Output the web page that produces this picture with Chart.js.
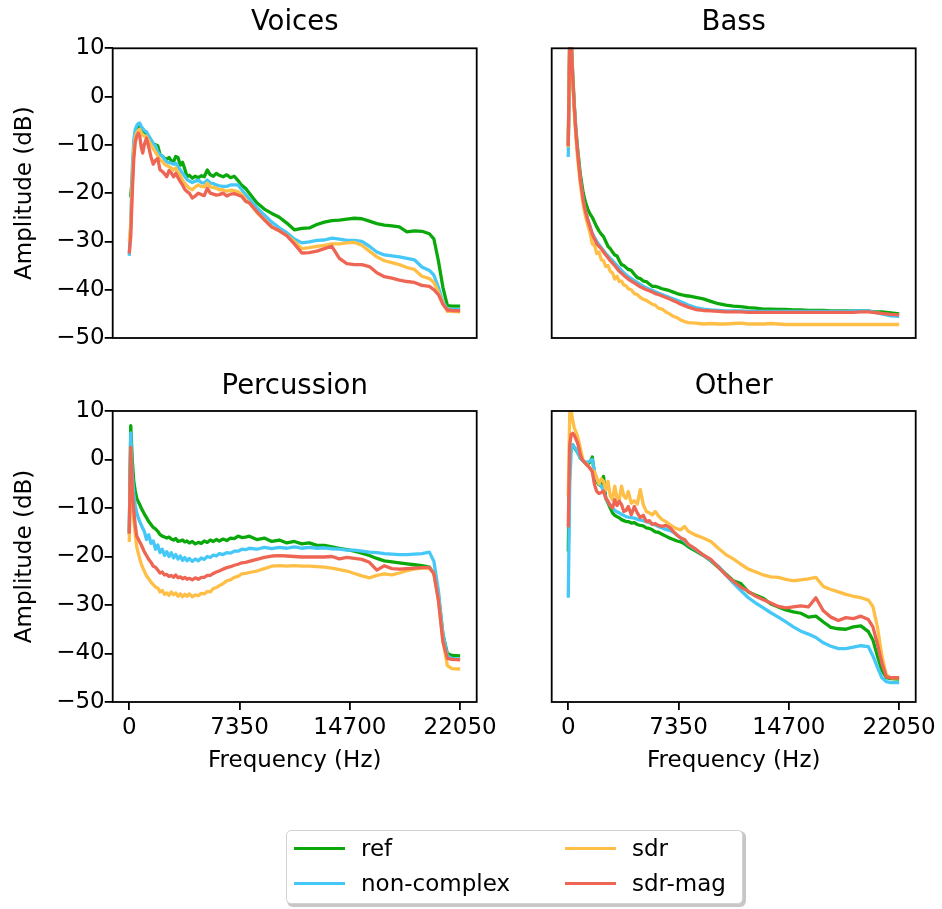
<!DOCTYPE html>
<html><head><meta charset="utf-8">
<script src="https://cdn.jsdelivr.net/npm/chart.js@4"></script>
<style>
html,body{margin:0;padding:0;background:#fff;}
#wrap{position:relative;width:942px;height:909px;overflow:hidden;font-family:"DejaVu Sans",sans-serif;background:#fff;}
#wrap canvas{position:absolute;left:0;top:0;}
.legend{position:absolute;left:286px;top:830px;width:457px;height:74px;border:1.5px solid #d2d2d2;border-radius:5px;box-shadow:2px 2px 0 1px rgba(0,0,0,0.22);background:#fff;box-sizing:border-box;}
.lg-line{position:absolute;width:51px;height:3.4px;}
.lg-text{position:absolute;font-size:23px;line-height:23px;color:#000;white-space:nowrap;}
</style>
</head><body>
<div id="wrap">
<canvas id="c0" width="942" height="909"></canvas>
<canvas id="c1" width="942" height="909"></canvas>
<canvas id="c2" width="942" height="909"></canvas>
<canvas id="c3" width="942" height="909"></canvas>
<div class="legend"></div>
</div>
<script>
// ---- data ----
const panelTitles = ["Voices", "Bass", "Percussion", "Other"];
const seriesNames = ["ref", "non-complex", "sdr", "sdr-mag"];
const seriesColors = ["#0aa80a", "#45c8f7", "#ffbf47", "#ee6553"];
const xTicks = [0, 7350, 14700, 22050];
const yTicks = [-50, -40, -30, -20, -10, 0, 10];
const freqs = [0,100,200,300,400,500,600,700,800,900,1000,
  1150,1300,1450,1600,1750,1900,2050,2200,2350,2500,2650,2800,2950,3100,3250,3400,3550,3700,3850,4000,
  4200,4400,4600,4800,5000,5200,5400,5600,5800,
  6000,6250,6500,6750,7000,7250,7500,7750,
  8000,8500,9000,9500,10000,10500,11000,11500,12000,12500,13000,13500,14000,14500,15000,15500,16000,16500,17000,17500,18000,18500,19000,19500,20000,
  20300,20600,20900,21200,21500,22050];

const voicesRef = [-20.5,-20.5,-17,-11,-7.5,-6.5,-6,-5.8,-6.5,-7,-7.3,
  -7.6,-8.3,-9,-9.8,-10,-10.2,-12,-12.3,-12.8,-13,-12.6,-13.3,-13.5,-12.4,-12.6,-14.2,-13.6,-15,-16.6,-16.3,
  -16.9,-16.5,-16.8,-16.4,-16.6,-15.2,-16.2,-16.5,-15.9,
  -16.3,-16.6,-16.2,-16.8,-16.5,-17.4,-18.4,-19,
  -20,-22,-23.3,-24.2,-25,-26.2,-27.6,-27.3,-27.2,-26.5,-26,-25.7,-25.6,-25.4,-25.2,-25.3,-25.8,-26.3,-26.6,-26.8,-27,-28,-27.8,-27.9,-28.4,
  -29.5,-34,-39.5,-43.3,-43.4,-43.4];
const voicesNonComplex = [-33,-26,-15,-9,-6.8,-6,-5.6,-5.5,-6.2,-6.6,-7,
  -7.3,-8.2,-9,-9.8,-10.2,-11.5,-12.1,-12.3,-13,-13.5,-13.7,-13.8,-14,-13.8,-14.5,-15.2,-15.9,-16.5,-17.2,-17.5,
  -17.8,-17.5,-17.3,-17.8,-17.9,-17.3,-17.9,-18,-18.3,
  -18.5,-18.6,-18.6,-18.3,-18.3,-18.3,-19.3,-20.3,
  -21.2,-23,-24.5,-26,-27.2,-28.2,-29.5,-30.3,-30.1,-29.8,-29.7,-29.3,-29.5,-29.8,-29.8,-30,-31,-32.2,-32.8,-33,-33.2,-33.5,-33.8,-35.3,-36,
  -37,-39.5,-42.5,-44,-44.1,-44.1];
const voicesSdr = [-30,-27,-18,-11,-8.5,-7.5,-7,-6.8,-7.5,-8,-8.2,
  -8.3,-9.2,-10,-10.8,-11.5,-12.3,-13.1,-13.4,-14,-14.3,-14.5,-14.8,-15.2,-14.8,-15.8,-16.3,-17.3,-18,-18.5,-19,
  -19.3,-18.7,-18.3,-18.6,-18.7,-17.9,-18.7,-18.8,-19,
  -19.3,-19.3,-19.6,-19.4,-19.5,-19.7,-20.3,-21.3,
  -22,-24,-25.5,-27,-27.8,-28.8,-30,-31.5,-31.3,-31,-30.8,-30.5,-30.5,-30.3,-30.2,-30.8,-32,-33.2,-34,-34.4,-34.8,-35.4,-35.8,-37.2,-37.7,
  -38.5,-40.5,-42.8,-44.5,-44.5,-44.6];
const voicesSdrMag = [-32.5,-29,-20,-13,-9.5,-8.2,-7.6,-8.2,-10.5,-11.7,-10,
  -8.6,-10.5,-12.5,-14,-13.2,-12.8,-15.2,-15.5,-16,-16.6,-15.3,-15.8,-16.6,-15.9,-16.8,-17.6,-18.3,-19.2,-19.7,-20,
  -21,-20.6,-20,-20.3,-20.5,-19,-20,-20.2,-20.4,
  -20.3,-20,-20.6,-20.2,-20.1,-20.4,-20.7,-21.7,
  -22,-23.8,-25.5,-27,-27.8,-28.8,-30.5,-32.4,-32.3,-32,-31.5,-31,-33.5,-34.6,-34.8,-34.8,-35.2,-36.5,-37.3,-37.6,-38,-38.3,-38.5,-39.1,-39.3,
  -40,-41,-43,-44.2,-44.3,-44.4];

const bassRef = [-10,13,12,4.5,-1.5,-6.5,-10,-13,-16,-18,-20,
  -21.9,-23.3,-24.3,-25,-26,-27,-27.8,-28.5,-29,-30,-31,-31.5,-32.2,-32.8,-33,-34,-34.8,-35,-35.4,-35.8,
  -36,-36.8,-37.5,-37.7,-38.2,-38.3,-38.8,-39.3,-39.3,
  -39.5,-39.8,-40,-40.2,-40.5,-40.8,-41,-41.2,
  -41.3,-41.6,-41.9,-42.4,-42.9,-43.2,-43.4,-43.5,-43.7,-43.8,-44,-44,-44.1,-44.1,-44.2,-44.2,-44.3,-44.3,-44.3,-44.4,-44.4,-44.4,-44.4,-44.4,-44.4,
  -44.6,-44.6,-44.6,-44.7,-44.8,-45];
const bassNonComplex = [-12.5,12,11,3.5,-2,-7,-10.8,-14,-17,-19.3,-21.5,
  -23.8,-25.4,-26.8,-28.3,-29.2,-30,-30.7,-31.3,-31.9,-32.5,-33,-33.5,-34,-34.5,-35,-35.5,-36,-36.5,-36.9,-37.3,
  -37.7,-38.1,-38.5,-38.9,-39.3,-39.6,-39.9,-40.1,-40.4,
  -40.7,-41,-41.3,-41.6,-41.9,-42.2,-42.5,-42.8,
  -43.2,-43.7,-44,-44.2,-44.3,-44.4,-44.4,-44.4,-44.5,-44.5,-44.5,-44.5,-44.5,-44.5,-44.5,-44.5,-44.5,-44.5,-44.5,-44.5,-44.5,-44.5,-44.4,-44.4,-44.4,
  -44.6,-44.8,-45,-45.2,-45.4,-45.5];
const bassSdr = [-10.5,13,11,3,-3,-8,-11.8,-15,-18,-20.3,-22.5,
  -24.8,-26.6,-28.2,-30.5,-30.8,-32.5,-32.2,-33.8,-34,-35.2,-35,-36.2,-36.5,-37.8,-37.2,-38.3,-38.2,-39,-39.2,-39.8,
  -40,-40.8,-41,-41.6,-42,-42.2,-42.6,-43,-43.2,
  -43.8,-44,-44.6,-45,-45.5,-45.8,-46.3,-46.6,
  -46.8,-46.9,-47.1,-47,-47.1,-47.1,-47,-46.9,-47.1,-47.1,-47.1,-47,-47.1,-47.2,-47.2,-47.2,-47.2,-47.2,-47.2,-47.2,-47.2,-47.2,-47.2,-47.2,-47.2,
  -47.2,-47.2,-47.2,-47.2,-47.2,-47.2];
const bassSdrMag = [-10.3,13,11,4,-2,-7,-10.8,-14,-17,-19.3,-21.5,
  -23.8,-25.5,-27,-28.5,-29.5,-30.5,-31,-31.5,-32.2,-32.8,-33.4,-34,-34.5,-35,-35.6,-36.2,-36.6,-37,-37.4,-37.8,
  -38.2,-38.6,-39,-39.4,-39.7,-40,-40.2,-40.5,-40.8,
  -41,-41.3,-41.6,-41.9,-42.3,-42.6,-43,-43.3,
  -43.6,-44.1,-44.3,-44.4,-44.5,-44.6,-44.6,-44.6,-44.7,-44.7,-44.7,-44.7,-44.7,-44.7,-44.7,-44.7,-44.7,-44.7,-44.7,-44.7,-44.7,-44.7,-44.7,-44.6,-44.6,
  -44.7,-44.8,-44.9,-45,-45.1,-45.2];

const percRef = [-15,7,0,-4.5,-6.5,-8,-8.7,-9.3,-10,-10.6,-11.2,
  -12,-12.8,-13.4,-14,-14.3,-14.8,-15.5,-15.8,-16,-16.2,-16,-16.4,-16.6,-16.3,-16.9,-16.8,-16.6,-17,-16.8,-17.2,
  -16.9,-17.4,-17.1,-17.3,-16.8,-17.1,-16.6,-16.9,-16.5,
  -16.8,-16.4,-16.7,-16.2,-16.3,-15.8,-16.1,-16,
  -15.8,-16.5,-16.2,-16.9,-16.6,-17.2,-16.9,-17.4,-17.2,-17.7,-17.7,-18,-18.3,-18.6,-18.9,-19.3,-19.8,-20.4,-20.9,-21.1,-21.3,-21.5,-21.7,-21.9,-22.2,
  -23.5,-28,-36,-40,-40.4,-40.5];
const percNonComplex = [-15.5,5.5,-3,-7,-9.5,-11,-12,-12.8,-13.5,-14.2,-14.8,
  -16.5,-15.5,-17.3,-16.8,-18.5,-17.6,-19.2,-18.5,-19.8,-19,-20,-19.2,-20.3,-19.6,-20.5,-19.9,-20.8,-20.2,-20.9,-20.4,
  -21,-20.5,-20.9,-20.3,-20.6,-20,-20.2,-19.7,-19.9,
  -19.4,-19.6,-19.2,-19.3,-18.9,-18.9,-18.5,-18.6,
  -18.3,-18.5,-18.1,-18.4,-18.1,-18.3,-18,-18.3,-18.1,-18.3,-18.2,-18.4,-18.5,-18.7,-18.7,-18.9,-19.1,-19.2,-19.4,-19.5,-19.6,-19.6,-19.5,-19.4,-19.1,
  -21,-27,-36,-40.5,-41,-41.2];
const percSdr = [-17,-1,-8,-12.5,-15.5,-18,-19.3,-20.5,-21.5,-22.3,-23,
  -24,-24.6,-25.3,-25.8,-26.3,-26.5,-27.3,-27,-27.8,-27.5,-28,-27.3,-27.9,-27.5,-28.2,-27.7,-28.3,-27.8,-28.2,-27.7,
  -28.3,-27.9,-28.1,-27.6,-27.7,-27.2,-27.3,-26.6,-26.4,
  -26,-25.6,-25,-24.8,-24.3,-24.1,-23.6,-23.5,
  -23.3,-23,-22.5,-22,-21.9,-22,-21.9,-22,-22,-22.1,-22.2,-22.4,-22.7,-23,-23.5,-24,-24.4,-23.9,-23.6,-23.8,-23.4,-22.9,-22.6,-22.4,-22.4,
  -23.5,-29,-37.5,-42.5,-43.1,-43.2];
const percSdrMag = [-15.3,2.5,-6,-10.5,-13.5,-15.8,-16.4,-17,-17.6,-18.3,-19,
  -19.8,-20.6,-21.2,-22,-22.2,-22.8,-23.4,-23.2,-23.8,-23.7,-24.1,-23.9,-24.3,-23.8,-24.4,-24.2,-24.6,-24.3,-24.7,-24.5,
  -24.8,-24.4,-24.7,-24.3,-24.3,-23.9,-23.9,-23.5,-23.2,
  -23,-22.6,-22.3,-22.1,-21.8,-21.6,-21.3,-21.2,
  -21,-20.6,-20.2,-19.9,-19.8,-19.9,-20,-20.1,-20.1,-20.1,-20.1,-20,-20.5,-20.2,-20.4,-20.6,-21.2,-22.8,-21.9,-22.5,-22.6,-22.5,-22.4,-22.3,-22.3,
  -23.5,-29,-37.5,-41,-41.2,-41.3];

const otherRef = [-19,0,2.5,3,2.4,2,1.6,1,0.3,0,-0.3,
  -0.8,-1,-0.5,0.5,-3,-4.5,-5.2,-5.5,-3.5,-8,-9,-10,-11,-11.5,-11.8,-12,-12.4,-12.6,-12.8,-12.8,
  -13.1,-13,-13.4,-13.6,-13.7,-14.1,-14.2,-14.5,-14.9,
  -15,-15.4,-15.8,-16.2,-16.5,-16.8,-17,-17.4,
  -18,-18.9,-19.8,-20.9,-22.2,-23.6,-25,-25.6,-27.3,-28,-28.6,-29.8,-30.4,-31,-31.4,-31.7,-32.5,-32.3,-33.5,-34.6,-34.9,-35,-34.5,-34.3,-35.5,
  -37.2,-40.5,-43.5,-45,-45.2,-45.3];
const otherNonComplex = [-28.5,-5,2,3,2.6,2.2,1.6,1,0.3,0,-0.3,
  -0.5,-0.6,-0.3,0,-2.5,-4,-5,-5.5,-6.5,-7.8,-8.8,-9.5,-10,-10.5,-10.8,-11,-11.3,-11.5,-11.8,-11.9,
  -12,-12.1,-12.3,-12.5,-12.6,-12.8,-13,-13.3,-13.5,
  -13.8,-14.1,-14.4,-14.6,-15,-15.6,-16.2,-16.8,
  -17.6,-18.6,-19.7,-20.8,-22,-23.8,-25.5,-27,-28.5,-29.6,-30.6,-31.6,-32.5,-33.5,-34.5,-35.4,-36,-36.7,-37.8,-38.5,-39,-39,-38.7,-38.4,-38.6,
  -40.5,-42.8,-45,-45.8,-46,-46];
const otherSdr = [-7.5,9.8,10,8,6.5,5.8,5,3.8,2.4,1,-0.2,
  -0.8,-1.2,-1.8,-2.2,-2.6,-3.8,-5,-4,-4.5,-6.3,-4.5,-7.5,-8.3,-5.5,-8,-8.3,-5.5,-7.5,-8,-6.6,
  -9,-8.5,-9.2,-6.2,-9.3,-10.7,-11,-11.4,-10.7,
  -11.6,-12.4,-12.8,-13.4,-13.9,-14.3,-14.5,-13.8,
  -14.8,-15.6,-16.2,-16.9,-18.3,-19.6,-20.5,-21.6,-22.6,-23.2,-23.8,-24.2,-24.3,-24.7,-25,-24.8,-24.6,-24.3,-26.2,-26.8,-27.3,-27.8,-28.2,-28.5,-29,
  -30.3,-34.5,-40.5,-44.5,-45,-45];
const otherSdrMag = [-14,3,5.2,5.4,5,4.3,3.6,2.5,1,0.2,-0.3,
  -0.8,-1.3,-1.8,-2.5,-5.2,-6.6,-7,-6.8,-6.5,-8,-8.6,-9.5,-10,-8.3,-9.5,-8.6,-9.3,-10.7,-10.5,-9.7,
  -11.4,-9.7,-11,-12,-11.5,-12.8,-12.6,-13.4,-13.2,
  -13.6,-13.8,-13.6,-14,-14.8,-15.6,-16.2,-16.5,
  -17.5,-18.5,-19.7,-20.6,-22.2,-23.8,-25.1,-26.3,-27.2,-28.2,-28.9,-29.6,-30.3,-30.6,-30.4,-30.2,-30.4,-28.5,-31.2,-32.5,-33.2,-32.6,-32.8,-32.3,-33,
  -34.5,-38,-42,-44.8,-45,-45];

const panelSeries = [
  [voicesRef, voicesNonComplex, voicesSdr, voicesSdrMag],
  [bassRef, bassNonComplex, bassSdr, bassSdrMag],
  [percRef, percNonComplex, percSdr, percSdrMag],
  [otherRef, otherNonComplex, otherSdr, otherSdrMag]
];

// ---- layout (pixel boxes of each plot area) ----
const W = 942, H = 909;
const boxes = [
  {l:112.7, t:48.3, r:476.7, b:338, showX:false, showY:true,  titleMid:22.8},
  {l:551.7, t:48.3, r:915.7, b:338, showX:false, showY:false, titleMid:22.8},
  {l:112.7, t:411,  r:476.7, b:702, showX:true,  showY:true,  titleMid:387.2},
  {l:551.7, t:411,  r:915.7, b:702, showX:true,  showY:false, titleMid:387.2}
];
const FONT = "'DejaVu Sans', sans-serif";
const TITLE_SIZE = 27.5, TICK_SIZE = 23;
const XAXIS_H = 72.8, YAXIS_PADL = 10;

const framePlugin = {
  id: 'frame',
  afterDatasetsDraw(chart) {
    const {ctx, chartArea: a} = chart;
    ctx.save();
    ctx.strokeStyle = '#000';
    ctx.lineWidth = 1.8;
    ctx.strokeRect(a.left, a.top, a.right - a.left, a.bottom - a.top);
    ctx.restore();
  }
};

const fmt = v => (v < 0 ? '\u2212' + Math.abs(v) : String(v));

boxes.forEach((bx, i) => {
  const titleLH = TITLE_SIZE * 1.2;
  const padTop = bx.titleMid - titleLH / 2;
  const titleBottomPad = bx.t - padTop - titleLH;
  const padBottom = bx.showX ? (H - bx.b - XAXIS_H) : (H - bx.b);
  const padLeft = bx.showY ? YAXIS_PADL : bx.l;
  const datasets = seriesNames.map((name, k) => ({
    label: name,
    data: freqs.map((f, j) => ({x: f, y: panelSeries[i][k][j]})),
    borderColor: seriesColors[k],
    backgroundColor: seriesColors[k],
    borderWidth: 3.3,
    pointRadius: 0,
    tension: 0,
    borderJoinStyle: 'round',
    fill: false,
    clip: 1,
    order: 3 - k
  }));
  new Chart(document.getElementById('c' + i), {
    type: 'line',
    data: {datasets},
    options: {
      responsive: false,
      devicePixelRatio: 1,
      animation: false,
      events: [],
      layout: {padding: {top: padTop, left: padLeft, right: W - bx.r, bottom: padBottom}},
      plugins: {
        legend: {display: false},
        tooltip: {enabled: false},
        title: {
          display: true, text: panelTitles[i], fullSize: false,
          color: '#000', font: {family: FONT, size: TITLE_SIZE, weight: 'normal', lineHeight: 1.2},
          padding: {top: 0, bottom: titleBottomPad}
        }
      },
      scales: {
        x: {
          type: 'linear', min: -1102.5, max: 23152.5,
          display: bx.showX,
          afterBuildTicks: s => { s.ticks = xTicks.map(v => ({value: v})); },
          afterFit: s => { if (bx.showX) { s.height = XAXIS_H; s.paddingLeft = 0; s.paddingRight = 0; } },
          ticks: {color: '#000', font: {family: FONT, size: TICK_SIZE}, padding: 4, maxRotation: 0, autoSkip: false, callback: v => String(v)},
          grid: {display: true, drawOnChartArea: false, drawTicks: true, tickLength: 8, color: '#000', lineWidth: 1.8},
          border: {display: false},
          title: {display: true, text: 'Frequency (Hz)', color: '#000', font: {family: FONT, size: TICK_SIZE, lineHeight: 1.2}, padding: 0}
        },
        y: {
          type: 'linear', min: -50, max: 10,
          display: bx.showY,
          afterBuildTicks: s => { s.ticks = yTicks.map(v => ({value: v})); },
          afterFit: s => { if (bx.showY) { s.width = bx.l - YAXIS_PADL; s.paddingTop = 0; s.paddingBottom = 0; } },
          ticks: {color: '#000', font: {family: FONT, size: TICK_SIZE}, padding: 0, autoSkip: false, callback: fmt},
          grid: {display: true, drawOnChartArea: false, drawTicks: true, tickLength: 8, color: '#000', lineWidth: 1.8},
          border: {display: false},
          title: {display: true, text: 'Amplitude (dB)', color: '#000', font: {family: FONT, size: TICK_SIZE, lineHeight: 1.2}, padding: {top: 1.2, bottom: 0}}
        }
      }
    },
    plugins: [framePlugin]
  });
});

// ---- legend (HTML) ----
const wrap = document.getElementById('wrap');
const legendPos = [
  {lx: 294, ly: 848.3, tx: 361, ty: 837.3},
  {lx: 294, ly: 883.3, tx: 361, ty: 872.3},
  {lx: 565, ly: 848.3, tx: 632, ty: 837.3},
  {lx: 565, ly: 883.3, tx: 632, ty: 872.3}
];
seriesNames.forEach((name, k) => {
  const p = legendPos[k];
  const ln = document.createElement('div');
  ln.className = 'lg-line';
  ln.style.left = p.lx + 'px';
  ln.style.top = (p.ly - 1.7) + 'px';
  ln.style.background = seriesColors[k];
  wrap.appendChild(ln);
  const tx = document.createElement('div');
  tx.className = 'lg-text';
  tx.style.left = p.tx + 'px';
  tx.style.top = p.ty + 'px';
  tx.textContent = name;
  wrap.appendChild(tx);
});
</script>
</body></html>
